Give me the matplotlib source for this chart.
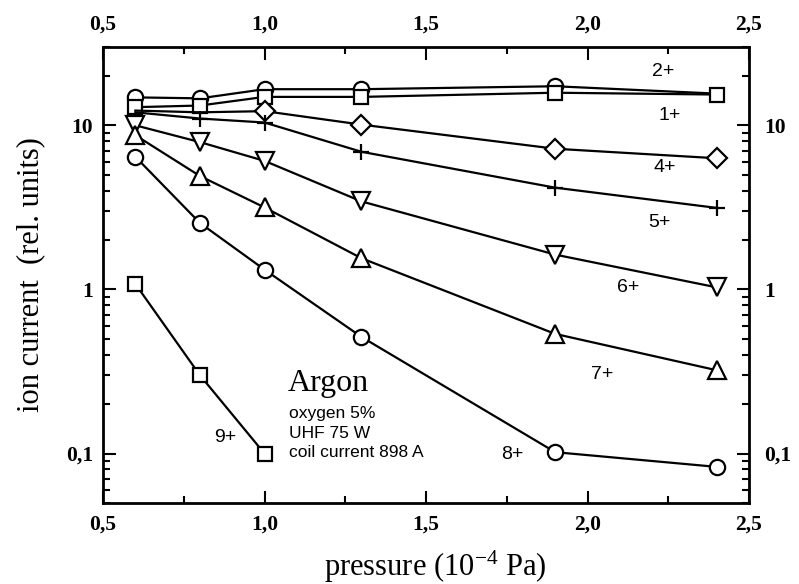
import matplotlib
matplotlib.use("Agg")
import matplotlib.pyplot as plt
from matplotlib.ticker import FixedLocator, FuncFormatter, LogLocator, NullFormatter, NullLocator

serif = "Liberation Serif"
sans = "Liberation Sans"

plt.rcParams["mathtext.default"] = "regular"
plt.rcParams["axes.unicode_minus"] = False
plt.rcParams["font.family"] = serif

pressure = [0.6, 0.8, 1.0, 1.3, 1.9, 2.4]
q1 = [12.9, 13.2, 14.9, 14.9, 15.8, 15.4]
q2 = [14.8, 14.6, 16.6, 16.6, 17.3, 15.6]
q4 = [12.3, 12.0, 12.2, 10.1, 7.2, 6.3]
q5 = [12.0, 11.0, 10.4, 6.9, 4.17, 3.14]
q6 = [10.0, 7.9, 6.07, 3.44, 1.63, 1.03]
q7 = [8.7, 4.91, 3.16, 1.55, 0.536, 0.322]
q8 = [6.43, 2.54, 1.32, 0.514, 0.102, 0.083]
pressure9 = [0.6, 0.8, 1.0]
q9 = [1.08, 0.30, 0.10]

x_major = [0.5, 1.0, 1.5, 2.0, 2.5]
x_minor = [0.75, 1.25, 1.75, 2.25]
y_major = [0.1, 1, 10]

fig = plt.figure(figsize=(7.99, 5.84), dpi=100)
ax = fig.add_axes([0.129, 0.1387, 0.8084, 0.7808])

lw = 1.6
mew = 1.6
common = dict(color="black", lw=lw, mfc="white", mec="black", mew=mew)
ax.plot(pressure, q2, marker="o", ms=11, markevery=[0, 1, 2, 3, 4], **common, zorder=2)
ax.plot(pressure, q1, marker="s", ms=10, **common, zorder=3)
ax.plot(pressure, q4, marker="D", ms=10, markevery=[2, 3, 4, 5], **common, zorder=3)
ax.plot(pressure, q5, marker="+", ms=12, markevery=[1, 2, 3, 4, 5], color="black", lw=lw, mew=mew, zorder=3)
ax.plot(pressure, q6, marker="v", ms=12.5, **common, zorder=3)
ax.plot(pressure, q7, marker="^", ms=12.5, **common, zorder=3)
ax.plot(pressure, q8, marker="o", ms=11, **common, zorder=3)
ax.plot(pressure9, q9, marker="s", ms=10, **common, zorder=3)

ax.set_yscale("log")
ax.set_xlim(0.5, 2.5)
ax.set_ylim(0.05, 30)

fmt_x = FuncFormatter(lambda v, p: f"{v:.1f}".replace(".", ","))

def yfmt(v, p):
    if v >= 1:
        return f"{v:.0f}"
    return f"{v:g}".replace(".", ",")

fmt_y = FuncFormatter(yfmt)

ax.xaxis.set_major_locator(FixedLocator(x_major))
ax.xaxis.set_minor_locator(FixedLocator(x_minor))
ax.xaxis.set_major_formatter(fmt_x)
ax.yaxis.set_major_locator(FixedLocator(y_major))
ax.yaxis.set_major_formatter(fmt_y)
ax.yaxis.set_minor_locator(LogLocator(base=10, subs=range(2, 10)))
ax.yaxis.set_minor_formatter(NullFormatter())

TICK_SIZE = 15.5

ax.tick_params(which="both", direction="in", top=True, right=True,
               labeltop=False, labelright=False, width=1.5)
ax.tick_params(which="major", length=9, labelsize=TICK_SIZE)
ax.tick_params(which="minor", length=5)
ax.tick_params(axis="x", which="major", pad=8)
ax.tick_params(axis="y", which="major", pad=7)

# top labels
secx = ax.secondary_xaxis("top")
secx.xaxis.set_major_locator(FixedLocator(x_major))
secx.xaxis.set_minor_locator(NullLocator())
secx.xaxis.set_major_formatter(fmt_x)
secx.tick_params(length=0, pad=9, labelsize=TICK_SIZE)
secx.spines["top"].set_visible(False)

# right labels
secy = ax.secondary_yaxis("right")
secy.set_yscale("log")
secy.yaxis.set_major_locator(FixedLocator(y_major))
secy.yaxis.set_minor_locator(NullLocator())
secy.yaxis.set_major_formatter(fmt_y)
secy.yaxis.set_minor_formatter(NullFormatter())
secy.tick_params(which="both", length=0, pad=11, labelsize=TICK_SIZE)
secy.spines["right"].set_visible(False)

for a in (ax, secx, secy):
    for lab in a.get_xticklabels() + a.get_yticklabels():
        lab.set_fontweight("bold")

for s in ax.spines.values():
    s.set_linewidth(2)

ax.set_xlabel("pressure (10$^{-4}$ Pa)", fontfamily=serif, fontsize=22)
ax.xaxis.set_label_coords(0.515, -0.1)
ax.set_ylabel("ion current  (rel. units)", fontfamily=serif, fontsize=22)
ax.yaxis.set_label_coords(-0.09, 0.5)

labels = [("2+", 2.234, 21.3), ("1+", 2.255, 11.4), ("4+", 2.24, 5.55), ("5+", 2.224, 2.55),
          ("6+", 2.125, 1.03), ("7+", 2.045, 0.304), ("8+", 1.766, 0.099), ("9+", 0.878, 0.126)]
for txt, x, y in labels:
    ax.text(x, y, txt, fontfamily=sans, fontsize=14, ha="center", va="center")

ax.text(1.073, 0.268, "Argon", fontfamily=serif, fontsize=23, ha="left", va="center")
ax.text(1.076, 0.175, "oxygen 5%", fontfamily=sans, fontsize=12.5, ha="left", va="center")
ax.text(1.076, 0.132, "UHF 75 W", fontfamily=sans, fontsize=12.5, ha="left", va="center")
ax.text(1.076, 0.102, "coil current 898 A", fontfamily=sans, fontsize=12.5, ha="left", va="center")

fig.savefig("out.png", dpi=100)
